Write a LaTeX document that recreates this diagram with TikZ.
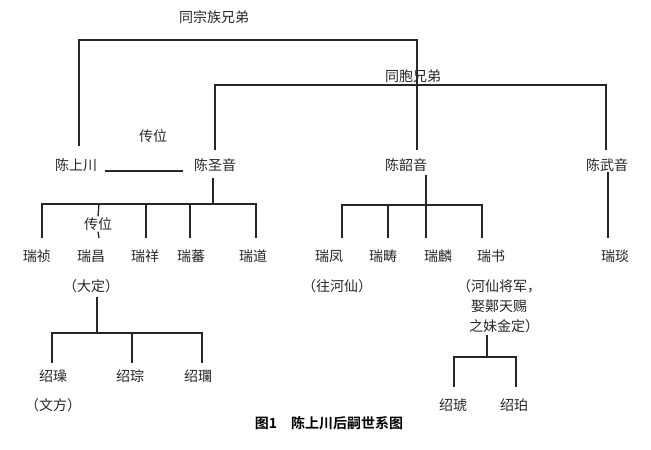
\documentclass[tikz,border=0pt]{standalone}
\usepackage{fontspec}
\setmainfont{Noto Sans CJK SC}
\newfontfamily\capfont{Noto Sans CJK SC Bold}
\begin{document}
\begin{tikzpicture}[x=1pt,y=-1pt,
  lbl/.style={inner sep=0pt,font=\fontsize{14}{20}\selectfont,text=black!85},
  ln/.style={line width=1.3pt,black!85}]
\useasboundingbox (0,0) rectangle (651,450);
\node[lbl] (tzz) at (214,17) {同宗族兄弟};
\node[lbl] (tb) at (413,76) {同胞兄弟};
\node[lbl] (cw1) at (153,136) {传位};
\node[lbl] (csc) at (76,165) {陈上川};
\node[lbl] (csy) at (215,165) {陈圣音};
\node[lbl] (cshao) at (406,165) {陈韶音};
\node[lbl] (cwy) at (607,165) {陈武音};
\node[lbl] (r1) at (37,256) {瑞祯};
\node[lbl] (r2) at (91,256) {瑞昌};
\node[lbl] (r3) at (145,256) {瑞祥};
\node[lbl] (r4) at (191,256) {瑞蕃};
\node[lbl] (r5) at (253,256) {瑞道};
\node[lbl,fill=white,inner sep=1pt] (cw2) at (98,224) {传位};
\node[lbl] (r6) at (329,256) {瑞凤};
\node[lbl] (r7) at (383,256) {瑞畴};
\node[lbl] (r8) at (438,256) {瑞麟};
\node[lbl] (r9) at (491,256) {瑞书};
\node[lbl] (r10) at (615,256) {瑞琰};
\node[lbl] (dd) at (91,286) {（大定）};
\node[lbl] (whx) at (337,286) {（往河仙）};
\node[lbl] (hx1) at (499,286) {（河仙将军，};
\node[lbl] (hx2) at (499,306) {娶鄚天赐};
\node[lbl] (hx3) at (504,326) {之妹金定）};
\node[lbl] (s1) at (53,376) {绍璪};
\node[lbl] (s2) at (130,376) {绍琮};
\node[lbl] (s3) at (198,376) {绍瓓};
\node[lbl] (wf) at (53,405) {（文方）};
\node[lbl] (s4) at (453,405) {绍琥};
\node[lbl] (s5) at (514,405) {绍珀};
\node[inner sep=0pt,font=\capfont\fontsize{14}{16}\selectfont] (cap) at (329,423) {图1\quad 陈上川后嗣世系图};
% top bars
\draw[ln] (79,146) -- (79,40) -- (417,40) -- (417,150);
\draw[ln] (215,150) -- (215,85) -- (606,85) -- (606,150);
\draw[ln] (105,171) -- (183,171);
% 陈圣音 children
\draw[ln] (213,178) -- (213,205);
\draw[ln] (42,238) -- (42,204) -- (256,204) -- (256,238);
\foreach \x in {146,190} \draw[ln] (\x,204) -- (\x,238);
\draw[ln] (99,204) -- (cw2.north);
\draw[ln] (cw2.south) -- (99,238);
% 陈韶音 children
\draw[ln] (426,175) -- (426,238);
\draw[ln] (342,238) -- (342,205) -- (482,205) -- (482,238);
\draw[ln] (388,205) -- (388,238);
% 陈武音
\draw[ln] (608,172) -- (608,238);
% 瑞昌 children
\draw[ln] (97,297) -- (97,333);
\draw[ln] (52,363) -- (52,333) -- (202,333) -- (202,363);
\draw[ln] (132,333) -- (132,363);
% 瑞书 children
\draw[ln] (487,335) -- (487,357);
\draw[ln] (454,387) -- (454,357) -- (516,357) -- (516,387);
\end{tikzpicture}
\end{document}
